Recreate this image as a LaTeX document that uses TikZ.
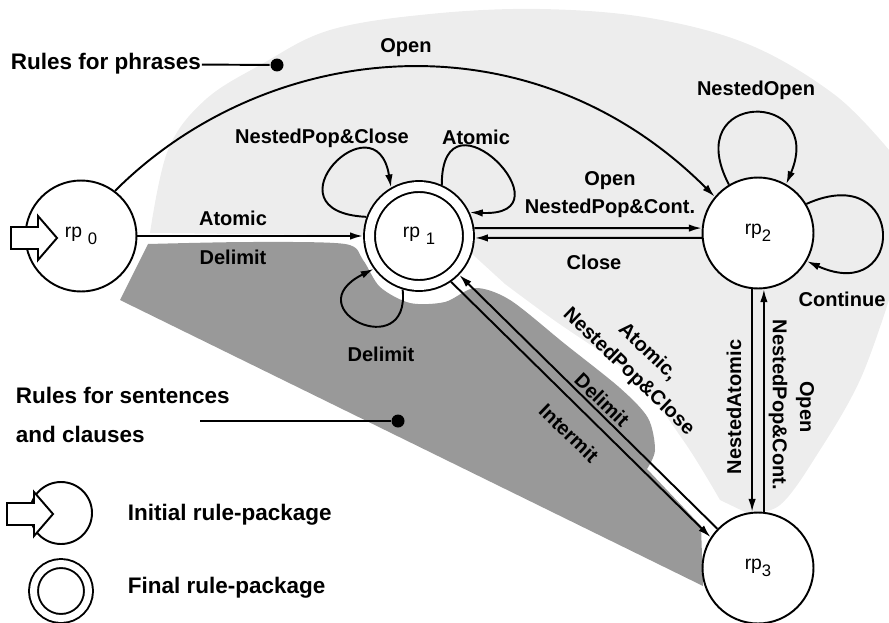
\documentclass[tikz,border=0pt]{standalone}
\usepackage{fontspec}
\setmainfont{Liberation Sans}
\usetikzlibrary{calc, arrows.meta}

\newcommand{\lblfont}{\fontsize{11.4}{15.6}\selectfont\bfseries}
\newcommand{\keyfont}{\fontsize{12.8}{15}\selectfont\bfseries}
\newcommand{\rpfont}{\fontsize{11}{13}\selectfont}
\newcommand{\rpsub}[1]{\raisebox{-0.35em}{\fontsize{9.5}{11}\selectfont #1}}
% fat start arrow, tip at #1
\newcommand{\fatarrow}[1]{\draw[fill=white] (#1) ++(-46,-11) -- ++(27,0) -- ++(0,-11)
  -- ++(19,22) -- ++(-19,22) -- ++(0,-11) -- ++(-27,0) -- cycle;}

\begin{document}
\begin{tikzpicture}[x=0.02cm, y=-0.02cm, line width=1.1pt,
  state/.style={circle, draw, fill=white, minimum size=2.22cm, inner sep=0pt, font=\rpfont},
  final/.style={state, minimum size=1.98cm, double, double distance=0.18cm, outer sep=0.13cm},
  arr/.style={-{Latex[length=0.26cm, width=0.15cm]}},
  lbl/.style={font=\lblfont, inner sep=1pt, align=center},
  key/.style={font=\keyfont, inner sep=0pt},
  phraseshade/.style={fill=black!7},
  sentshade/.style={fill=black!40},
]
  \useasboundingbox (0,0) rectangle (889,622);

  % shaded areas
  \fill[phraseshade] plot[smooth, tension=0.6] coordinates {(150,233) (168,150) (205,100)
      (262,64) (330,30) (430,14) (540,9) (650,18) (750,45) (835,95) (889,150)}
    -- (889,300) -- plot[smooth, tension=0.6] coordinates {(889,300) (860,380) (820,450) (780,505) (745,512)}
    -- plot[smooth, tension=0.6] coordinates {(720,500) (683,440) (633,377) (551,318) (505,284)}
    -- (470,252) -- (419,236) -- cycle;
  \fill[sentshade] plot[smooth, tension=0.5] coordinates {(148,244) (250,242) (345,244) (363,260)
      (380,287) (410,303) (445,302) (475,288) (510,300) (565,344) (620,388) (648,418) (655,450) (647,469)}
    -- (701,526) -- (703,586) -- (120,300) -- cycle;

  \node[state] (rp0) at (81,236) {rp\hspace{0.3em}\rpsub{0}};
  \node[final] (rp1) at (419,236) {rp\hspace{0.3em}\rpsub{1}};
  \node[state] (rp2) at (758,233) {rp\rpsub{2}};
  \node[state] (rp3) at (758,568) {rp\rpsub{3}};
  \coordinate (tip0) at (57,238);
  \fatarrow{tip0}

  \draw[arr] (rp0) -- (rp1);
  \draw[arr] (rp0.53) .. controls +(150,-150) and +(-187,-187) .. (rp2.140);
  \draw[arr] (rp1.8) -- (rp2.175);
  \draw[arr] (rp2.185) -- (rp1.-2);
  \draw[arr] (rp2.-96) -- (rp3.96);
  \draw[arr] (rp3.84) -- (rp2.-84);
  \draw[arr] (rp3.136) -- (rp1.-44);
  \draw[arr] (rp1.-55.5) -- (rp3.147);
  % loops
  \draw[arr] (rp1.160) .. controls +(-105,-5) and +(-15,-92) .. (rp1.120);
  \draw[arr] (rp1.66) .. controls +(0,-105) and +(105,5) .. (rp1.25);
  \draw[arr] (rp1.253) .. controls +(8,75) and +(-80,40) .. (rp1.216);
  \draw[arr] (rp2.121) .. controls +(-50,-95) and +(40,-95) .. (rp2.60);
  \draw[arr] (rp2.31) .. controls +(100,-45) and +(100,45) .. (rp2.-30);

  \node[lbl] (lAtomic01) at (233,218) {Atomic};
  \node[lbl] (lDelim01) at (233,257) {Delimit};
  \node[lbl] (lOpen02) at (406,48) {Open};
  \node[lbl] (lNPC11) at (322,138) {NestedPop\&Close};
  \node[lbl] (lAtomic11) at (476,137) {Atomic};
  \node[lbl] (lDelim11) at (381,354) {Delimit};
  \node[lbl] (lOpen12) at (610,181) {Open};
  \node[lbl] (lNPC12) at (610,208) {NestedPop\&Cont.};
  \node[lbl] (lClose21) at (594,262) {Close};
  \node[lbl] (lNO22) at (756,90) {NestedOpen};
  \node[lbl] (lCont22) at (842,299) {Continue};
  \node[lbl, rotate=90] (lNA23) at (734,407) {NestedAtomic};
  \node[lbl, rotate=-90] (lNPC32) at (778,405) {NestedPop\&Cont.};
  \node[lbl, rotate=-90] (lOpen32) at (805,407) {Open};
  \node[lbl, rotate=-44] (lANPC31) at (638,362) {Atomic,\\NestedPop\&Close};
  \node[lbl, rotate=-44] (lDelim31) at (602,400) {Delimit};
  \node[lbl, rotate=-44] (lInter13) at (569,433) {Intermit};

  % legend
  \node[key, anchor=west] (phrases) at (10,64) {Rules for phrases};
  \node[circle, fill, inner sep=0pt, minimum size=0.26cm] (pdot) at (277,65) {};
  \draw (phrases) -- (pdot);
  \node[key, anchor=base west] (sent1) at (15,403) {Rules for sentences};
  \node[key, anchor=base west] (sent2) at (15,442) {and clauses};
  \coordinate (sline) at (200,421);
  \node[circle, fill, inner sep=0pt, minimum size=0.26cm] (sdot) at (398,421) {};
  \draw (sline) -- (sdot);
  \node[circle, draw, fill=white, minimum size=1.24cm] (initkey) at (61,513) {};
  \coordinate (tipkey) at (53,514);
  \fatarrow{tipkey}
  \node[key, anchor=west] (initlbl) at (127,515) {Initial rule-package};
  \node[circle, draw, double, double distance=0.14cm, minimum size=1.1cm] (finalkey) at (61,591) {};
  \node[key, anchor=west] (finallbl) at (127,588) {Final rule-package};
\end{tikzpicture}
\end{document}
